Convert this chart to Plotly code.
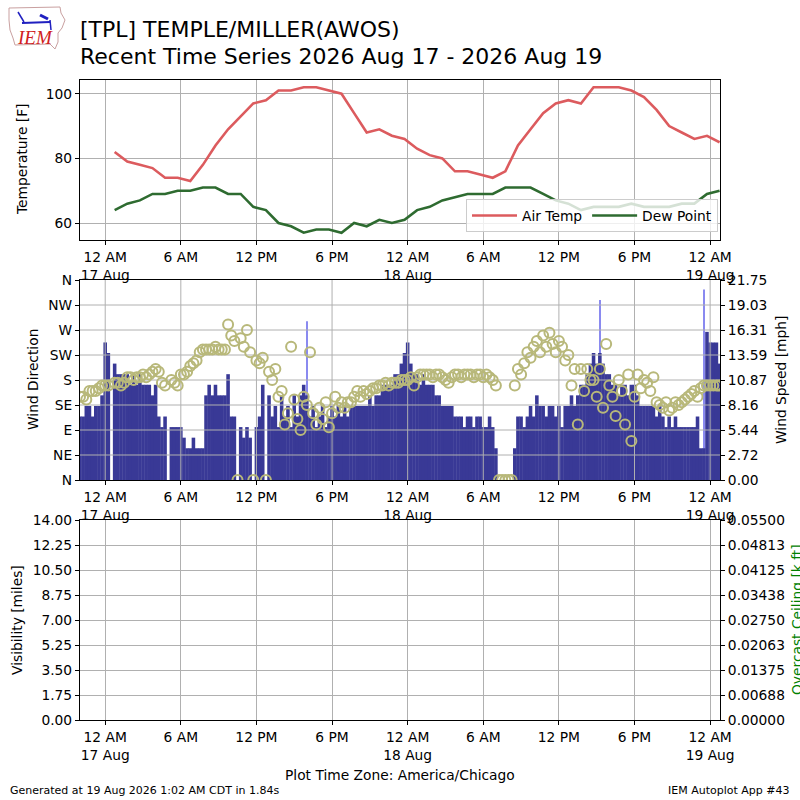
import plotly.graph_objects as go
from datetime import datetime, timedelta

# ---------------- data ----------------
TEMP_START = datetime(2026, 8, 17, 0, 45)      # hourly observations
air_temp = [82, 79, 78, 77, 74, 74, 73, 78, 84, 89, 93, 97, 98, 101, 101, 102, 102, 101, 100,
            94, 88, 89, 87, 86, 83, 81, 80, 76, 76, 75, 74, 76, 84, 89, 94, 97, 98, 97, 102,
            102, 102, 101, 99, 95, 90, 88, 86, 87, 85]
dew_point = [64, 66, 67, 69, 69, 70, 70, 71, 71, 69, 69, 65, 64, 60, 59, 57, 58, 58, 57, 60,
             59, 61, 60, 61, 64, 65, 67, 68, 69, 69, 69, 71, 71, 71, 69, 67, 66, 64, 65, 65,
             65, 66, 65, 65, 65, 66, 66, 69, 70]

WIND_START = datetime(2026, 8, 16, 22, 0)      # 15 minute observations
wind_kt = [6, 6, 7, 7, 6, 7, 7, 8, 13, 12,
           0, 11, 10, 10, 10, 10, 9, 10, 9, 10,
           9, 9, 9, 8, 9, 6, 5, 6, 0, 5,
           5, 5, 5, 4, 3, 3, 4, 3, 3, 3,
           8, 9, 8, 9, 8, 8, 8, 10, 6, 6,
           0, 5, 4, 5, 4, 0, 5, 6, 9, 0,
           8, 6, 7, 5, 8, 6, 7, 5, 8, 6,
           8, 9, 8, 6, 7, 5, 6, 7, 5, 6,
           7, 6, 7, 6, 7, 6, 7, 7, 7, 7,
           7, 7, 8, 7, 8, 8, 9, 9, 9, 9,
           10, 10, 11, 12, 13, 11, 10, 10, 9, 10,
           9, 9, 9, 8, 8, 7, 7, 7, 7, 6,
           6, 6, 5, 6, 6, 5, 6, 6, 5, 5,
           6, 5, 3, 0, 0, 0, 0, 0, 3, 6,
           6, 5, 6, 7, 6, 8, 7, 7, 6, 7,
           7, 6, 7, 5, 7, 7, 8, 7, 8, 9,
           9, 10, 11, 12, 11, 12, 11, 10, 10, 9,
           9, 8, 9, 9, 8, 9, 9, 8, 7, 7,
           7, 7, 7, 6, 7, 6, 5, 6, 5, 6,
           5, 5, 5, 5, 5, 5, 6, 3, 3, 14,
           13, 13, 13, 11]
wind_dir = [150, 150, 145, 160, 160, 160, 165, 170, 170, 170,
            None, 175, 175, 170, 175, 185, 185, 180, 185, 185,
            190, 185, 190, 195, 200, 195, 175, 170, None, 180,
            175, 170, 190, 190, 195, 205, 210, 215, 230, 235,
            235, 235, 235, 240, 235, 235, 235, 280, 260, 250,
            0, 255, 240, 270, 230, 0, 215, 210, 220, 0,
            195, 180, 200, 150, 160, 100, 120, 240, 145, 110,
            90, 150, 135, 230, 120, 100, 130, 110, 140, 95,
            120, 150, 130, 140, 130, 140, 140, 150, 160, 150,
            160, 155, 160, 165, 165, 170, 170, 175, 170, 175,
            175, 175, 180, 180, 180, 185, 170, 185, 190, 190,
            190, 190, 185, 190, 190, 185, 180, 175, 185, 190,
            190, 185, 190, 190, 190, 185, 190, 190, 185, 190,
            185, 180, 170, 0, 0, 0, 0, 0, 170, 200,
            190, 210, 230, 220, 240, 250, 230, 260, 240, 265,
            245, 230, 250, 240, 215, 225, 170, 200, 100, 200,
            160, 200, 180, 180, 150, 200, 130, 245, 170, 150,
            115, 180, 160, 100, 190, 70, 150, 190, 165, 180,
            175, 160, 185, 140, 135, 130, 140, 125, 130, 140,
            135, 140, 145, 150, 155, 160, 150, 165, 170, 170,
            170, 170, 170, 170]
gust_slot = [72, 165, 198]
gust_kt = [15, 17, 18]

x_tick_vals = ["2026-08-17 00:00", "2026-08-17 06:00", "2026-08-17 12:00", "2026-08-17 18:00",
               "2026-08-18 00:00", "2026-08-18 06:00", "2026-08-18 12:00", "2026-08-18 18:00",
               "2026-08-19 00:00"]
x_tick_text = ["12 AM<br>17 Aug", "6 AM", "12 PM", "6 PM", "12 AM<br>18 Aug",
               "6 AM", "12 PM", "6 PM", "12 AM<br>19 Aug"]
dir_tick_vals = [0, 45, 90, 135, 180, 225, 270, 315, 360]
dir_tick_text = ["N", "NE", "E", "SE", "S", "SW", "W", "NW", "N"]
speed_tick_text = ["0.00", "2.72", "5.44", "8.16", "10.87", "13.59", "16.31", "19.03", "21.75"]
vis_tick_text = ["0.00", "1.75", "3.50", "5.25", "7.00", "8.75", "10.50", "12.25", "14.00"]
ceil_tick_text = ["0.00000", "0.00688", "0.01375", "0.02063", "0.02750", "0.03438",
                  "0.04125", "0.04813", "0.05500"]

X_RANGE = ["2026-08-16 22:00", "2026-08-19 00:47"]
SPEED_MAX = 21.75
VIS_MAX = 14.0
CEIL_MAX = 0.055
KT2MPH = 1.15078

# ---------------- derived ----------------
temp_times = [TEMP_START + timedelta(hours=i) for i in range(len(air_temp))]
wind_times = [WIND_START + timedelta(minutes=15 * i) for i in range(len(wind_kt))]
wind_mph = [v * KT2MPH for v in wind_kt]
gust_times = [wind_times[s] for s in gust_slot]
gust_mph = [v * KT2MPH for v in gust_kt]

FONT = "DejaVu Sans"
TICKFONT = dict(family=FONT, size=13.8, color="black")
GRID = "#b0b0b0"
fig = go.Figure()

# top panel
fig.add_trace(go.Scatter(x=temp_times, y=air_temp, mode="lines", name="Air Temp",
                         line=dict(color="#dc5b5e", width=2.6), xaxis="x", yaxis="y"))
fig.add_trace(go.Scatter(x=temp_times, y=dew_point, mode="lines", name="Dew Point",
                         line=dict(color="#2e6b30", width=2.6), xaxis="x", yaxis="y"))

# middle panel: bars on speed axis (base), grid + circles on direction axis (overlay)
fig.add_trace(go.Bar(x=gust_times, y=gust_mph, width=[5 * 60 * 1000] * len(gust_times),
                     marker=dict(color="#8a8af0", line=dict(width=0)), showlegend=False,
                     xaxis="x2", yaxis="y2"))
fig.add_trace(go.Bar(x=wind_times, y=wind_mph, width=[17 * 60 * 1000] * len(wind_times),
                     marker=dict(color="#393996", line=dict(width=0)), showlegend=False,
                     xaxis="x2", yaxis="y2"))
gx, gy = [], []
for d in dir_tick_vals[1:-1]:
    gx += [X_RANGE[0], X_RANGE[1], None]
    gy += [d, d, None]
for t in x_tick_vals:
    gx += [t, t, None]
    gy += [0, 360, None]
fig.add_trace(go.Scatter(x=gx, y=gy, mode="lines", line=dict(color=GRID, width=1),
                         hoverinfo="skip", showlegend=False, xaxis="x2", yaxis="y3"))
fig.add_trace(go.Scatter(x=wind_times, y=wind_dir, mode="markers", showlegend=False,
                         marker=dict(symbol="circle-open", size=10, color="#b8b87a",
                                     line=dict(width=2)),
                         xaxis="x2", yaxis="y3"))

# bottom panel (empty)
fig.add_trace(go.Scatter(x=[], y=[], showlegend=False, xaxis="x3", yaxis="y4"))
fig.add_trace(go.Scatter(x=[], y=[], showlegend=False, xaxis="x3", yaxis="y5"))

xcommon = dict(range=X_RANGE, type="date", domain=[0.1, 0.9], tickvals=x_tick_vals,
               ticktext=x_tick_text, ticks="outside", ticklen=4, tickcolor="black",
               showline=True, linecolor="black", linewidth=1.2, mirror=True,
               tickfont=TICKFONT, gridcolor=GRID, zeroline=False, automargin=False)
ycommon = dict(ticks="outside", ticklen=4, tickcolor="black", showline=True,
               linecolor="black", linewidth=1.2, tickfont=TICKFONT, zeroline=False,
               automargin=False)

fig.update_layout(
    width=800, height=800, margin=dict(l=0, r=0, t=0, b=0, autoexpand=False),
    paper_bgcolor="white", plot_bgcolor="white", barmode="overlay",
    font=dict(family=FONT, color="black"),
    xaxis=dict(xcommon, anchor="y", showgrid=True),
    yaxis=dict(ycommon, domain=[0.7, 0.9], range=[54.75, 104.25], tickvals=[60, 80, 100],
               mirror=True, showgrid=True, gridcolor=GRID, anchor="x"),
    xaxis2=dict(xcommon, anchor="y2", showgrid=False),
    yaxis2=dict(ycommon, domain=[0.4, 0.65], range=[0, SPEED_MAX], side="right", anchor="x2",
                tickvals=[SPEED_MAX * k / 8 for k in range(9)], ticktext=speed_tick_text,
                showgrid=False),
    yaxis3=dict(ycommon, range=[0, 360], overlaying="y2", side="left", anchor="x2",
                tickvals=dir_tick_vals, ticktext=dir_tick_text, showgrid=False),
    xaxis3=dict(xcommon, anchor="y4", showgrid=True),
    yaxis4=dict(ycommon, domain=[0.1, 0.35], range=[0, VIS_MAX], anchor="x3",
                tickvals=[VIS_MAX * k / 8 for k in range(9)], ticktext=vis_tick_text,
                showgrid=True, gridcolor=GRID),
    yaxis5=dict(ycommon, range=[0, CEIL_MAX], overlaying="y4", side="right", anchor="x3",
                tickvals=[CEIL_MAX * k / 8 for k in range(9)], ticktext=ceil_tick_text,
                showgrid=False),
    legend=dict(x=0.8975, xanchor="right", y=0.71, yanchor="bottom", orientation="h",
                bgcolor="rgba(255,255,255,0.8)", bordercolor="#cccccc", borderwidth=1,
                itemwidth=45,
                font=dict(family=FONT, size=13.8, color="black")),
)

def note(text, x, y, size=13.8, angle=0, xanchor="center", color="black", **kw):
    fig.add_annotation(text=text, x=x / 800, y=1 - y / 800, xref="paper", yref="paper",
                       showarrow=False, textangle=angle, xanchor=xanchor, yanchor="middle",
                       font=dict(family=FONT, size=size, color=color, **kw))

note("[TPL] TEMPLE/MILLER(AWOS)", 78, 30, size=22, xanchor="left")
note("Recent Time Series 2026 Aug 17 - 2026 Aug 19", 78, 56, size=22, xanchor="left")
note("Temperature [F]", 22, 160, angle=-90)
note("Wind Direction", 33, 380, angle=-90)
note("Wind Speed [mph]", 781, 380, angle=-90)
note("Visibility [miles]", 17, 620, angle=-90)
note("Overcast Ceiling [k ft]", 797, 620, angle=-90, color="#008000")
note("Plot Time Zone: America/Chicago", 400, 775)
note("Generated at 19 Aug 2026 1:02 AM CDT in 1.84s", 8, 790, size=11, xanchor="left")
note("IEM Autoplot App #43", 792, 790, size=11, xanchor="right")

# IEM logo (approximation)
def px(x, y):
    return f"{x / 800:.5f},{1 - y / 800:.5f}"
outline = [(9, 8), (60, 7), (61, 13), (65, 20), (62, 28), (58, 33), (58, 42), (55, 49),
           (50, 44), (15, 45), (13, 38), (10, 30), (9, 20)]
path = "M " + " L ".join(px(a, b) for a, b in outline) + " Z"
fig.add_shape(type="path", path=path, xref="paper", yref="paper",
              line=dict(color="#c9a0a0", width=1))
fig.add_shape(type="line", x0=22 / 800, y0=1 - 23 / 800, x1=50 / 800, y1=1 - 22 / 800,
              xref="paper", yref="paper", line=dict(color="#2020c0", width=2))
fig.add_shape(type="line", x0=18 / 800, y0=1 - 12 / 800, x1=24 / 800, y1=1 - 22 / 800,
              xref="paper", yref="paper", line=dict(color="#2020c0", width=1.5))
fig.add_shape(type="line", x0=40 / 800, y0=1 - 15 / 800, x1=48 / 800, y1=1 - 19 / 800,
              xref="paper", yref="paper", line=dict(color="#2020c0", width=3))
fig.add_shape(type="line", x0=50 / 800, y0=1 - 20 / 800, x1=51 / 800, y1=1 - 30 / 800,
              xref="paper", yref="paper", line=dict(color="#2020c0", width=1.5))
fig.add_annotation(text="IEM", x=35 / 800, y=1 - 38 / 800, xref="paper", yref="paper",
                   xanchor="center", yanchor="middle", showarrow=False,
                   font=dict(family="Liberation Serif", size=19, color="#d02020",
                             style="italic"))

fig.write_html("out.html", config={"displayModeBar": False},
               post_script="document.body.style.margin='0';"
                           "document.body.style.overflow='hidden';")
